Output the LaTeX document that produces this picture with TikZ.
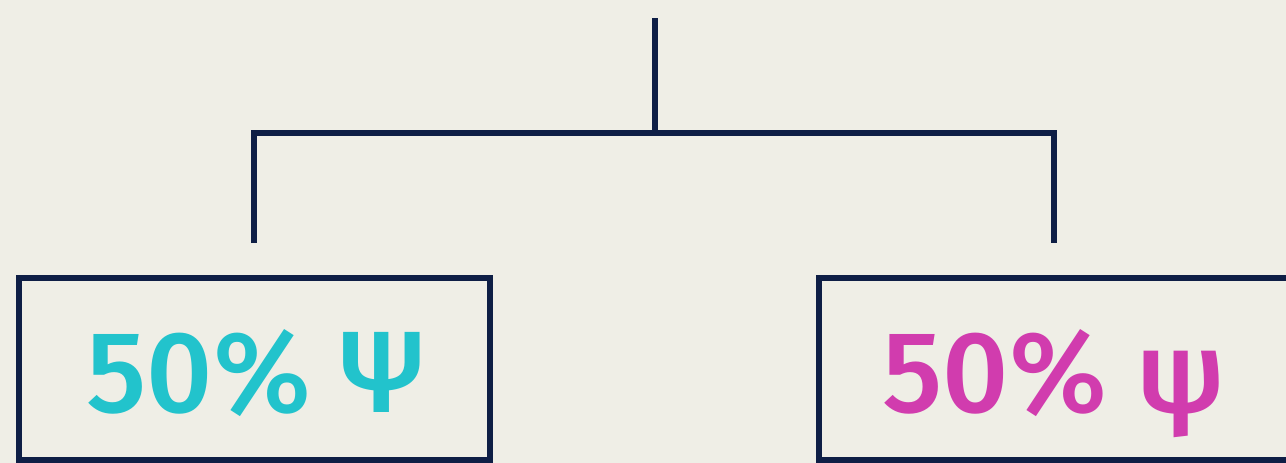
\documentclass[tikz,border=0pt]{standalone}
\usepackage{fontspec}
\setmainfont{Fira Sans}[BoldFont={Fira Sans Medium}]
\usepackage{tikz}
\usetikzlibrary{positioning}

\definecolor{bgcream}{HTML}{EFEEE6}
\definecolor{navy}{HTML}{0E1E45}
\definecolor{psicyan}{HTML}{22C3CC}
\definecolor{psimagenta}{HTML}{D13CAE}

\tikzset{
  link/.style={draw=navy, line width=3.4pt},
  halfbox/.style={draw=navy, line width=3.4pt, minimum width=9.42cm, minimum height=3.64cm,
    text height=1.76cm, text depth=0cm,
    font=\fontsize{66}{72}\selectfont\bfseries},
}

\begin{document}
\begin{tikzpicture}[x=0.02cm, y=-0.02cm]
\useasboundingbox[fill=bgcream] (0,0) rectangle (1286,463);
\clip (0,0) rectangle (1286,463);
% split point and free ends of the tree
\coordinate (root) at (655,18);
\coordinate (split) at (655,133);
\coordinate (lend) at (254,243);
\coordinate (rend) at (1054,243);
\draw[link] (root) -- (split);
\draw[link] (lend) |- (split) -| (rend);
% the two halves
\node[halfbox, text=psicyan] (left) at (254.5,369) {50\% Ψ};
\node[halfbox, text=psimagenta] (right) at (1054,369) {50\% ψ};
\end{tikzpicture}
\end{document}
